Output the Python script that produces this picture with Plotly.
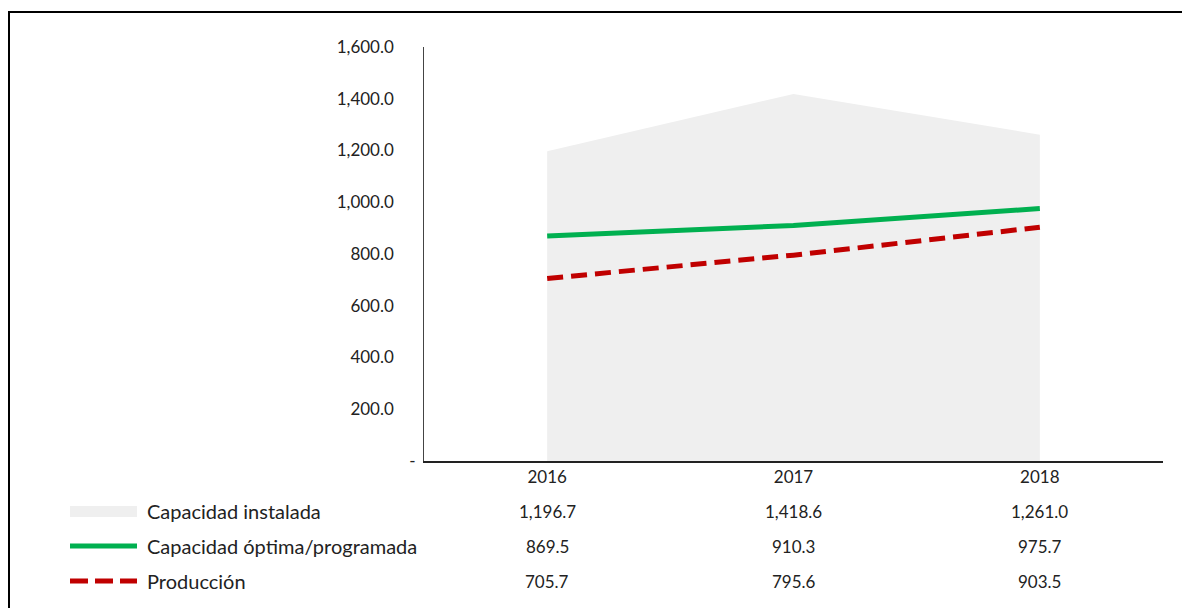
import plotly.graph_objects as go

years = ["2016", "2017", "2018"]
instalada = [1196.7, 1418.6, 1261.0]
optima = [869.5, 910.3, 975.7]
produccion = [705.7, 795.6, 903.5]

row_names = ["Capacidad instalada", "Capacidad óptima/programada", "Producción"]
row_values = [instalada, optima, produccion]

y_ticks = [0, 200, 400, 600, 800, 1000, 1200, 1400, 1600]
pad = "\u00a0" * 5
y_labels = ["-"] + [f"{v:,.1f}" + pad for v in y_ticks[1:]]

FONT = "Lato"
# page body has an 8px margin, so the figure is placed at (8, 8)
OFF = 8
W, H = 1190 - OFF, 608 - OFF
L, R, T, B = 424 - OFF, 1163 - OFF, 47 - OFF, 461 - OFF


def px_x(px):
    return (px - OFF - L) / (R - L)


def px_y(py):
    return (B - (py - OFF)) / (B - T)


xs = list(range(len(years)))

fig = go.Figure()
fig.add_scatter(
    x=xs, y=instalada, mode="lines", fill="tozeroy",
    line=dict(width=0, color="#efefef"), fillcolor="#efefef",
    name=row_names[0], showlegend=False,
)
fig.add_scatter(
    x=xs, y=optima, mode="lines",
    line=dict(width=5, color="#00B050"),
    name=row_names[1], showlegend=False,
)
fig.add_scatter(
    x=xs, y=produccion, mode="lines",
    line=dict(width=5, color="#C00000", dash="16px,8px"),
    name=row_names[2], showlegend=False,
)

# data table below the chart
row_y = [511, 546, 581]
annotations = []
for name, vals, py in zip(row_names, row_values, row_y):
    annotations.append(dict(
        x=px_x(145), y=px_y(py), xref="paper", yref="paper",
        text=name, showarrow=False, xanchor="left", yanchor="middle",
        font=dict(size=20, color="#222"),
    ))
    for i, v in enumerate(vals):
        annotations.append(dict(
            x=i, y=px_y(py), xref="x", yref="paper",
            text=f"{v:,.1f}", showarrow=False, xanchor="center", yanchor="middle",
            font=dict(size=17, color="#222"),
        ))

shapes = [
    # outer frame (left edge sits at the figure's own edge)
    dict(type="rect", xref="paper", yref="paper",
         x0=px_x(OFF + 1), x1=px_x(1220), y0=px_y(12), y1=px_y(640),
         line=dict(color="black", width=2)),
    # legend keys
    dict(type="rect", xref="paper", yref="paper",
         x0=px_x(70), x1=px_x(137), y0=px_y(506), y1=px_y(517),
         line=dict(width=0), fillcolor="#efefef"),
    dict(type="line", xref="paper", yref="paper",
         x0=px_x(70), x1=px_x(137), y0=px_y(546), y1=px_y(546),
         line=dict(width=5, color="#00B050")),
    dict(type="line", xref="paper", yref="paper",
         x0=px_x(70), x1=px_x(137), y0=px_y(581), y1=px_y(581),
         line=dict(width=5, color="#C00000", dash="18px,7px")),
]

fig.update_layout(
    width=W, height=H,
    margin=dict(l=L, r=W - R, t=T, b=H - B),
    paper_bgcolor="white", plot_bgcolor="white",
    font=dict(family=FONT, size=17, color="#222"),
    annotations=annotations, shapes=shapes,
    showlegend=False,
)
fig.update_xaxes(
    range=[-0.5, 2.5], tickvals=xs, ticktext=years,
    showgrid=False, zeroline=False, showline=True,
    linecolor="#222", linewidth=2, ticks="",
)
fig.update_yaxes(
    range=[0, 1600], tickvals=y_ticks, ticktext=y_labels,
    showgrid=False, zeroline=False, showline=True,
    linecolor="#444", linewidth=1, ticks="", ticklabelstandoff=4,
)

fig.write_html("out.html")
